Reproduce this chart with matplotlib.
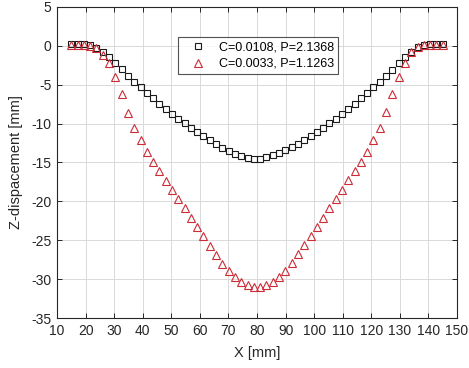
import matplotlib
matplotlib.use("Agg")
import matplotlib.pyplot as plt

plt.rcParams['font.family'] = ['Liberation Sans', 'DejaVu Sans']
plt.rcParams['axes.unicode_minus'] = False

x_mm = [15.00, 17.20, 19.41, 21.61, 23.81, 26.02, 28.22, 30.42, 32.63, 34.83,
        37.03, 39.24, 41.44, 43.64, 45.85, 48.05, 50.25, 52.46, 54.66, 56.86,
        59.07, 61.27, 63.47, 65.68, 67.88, 70.08, 72.29, 74.49, 76.69, 78.90,
        81.10, 83.31, 85.51, 87.71, 89.92, 92.12, 94.32, 96.53, 98.73, 100.93,
        103.14, 105.34, 107.54, 109.75, 111.95, 114.15, 116.36, 118.56, 120.76, 122.97,
        125.17, 127.37, 129.58, 131.78, 133.98, 136.19, 138.39, 140.59, 142.80, 145.00]

z_c0108 = [0.2, 0.2, 0.2, 0.05, -0.3, -0.75, -1.4, -2.15, -3.0, -3.85,
           -4.6, -5.35, -6.05, -6.75, -7.45, -8.15, -8.75, -9.35, -9.9, -10.5,
           -11.05, -11.65, -12.15, -12.6, -13.1, -13.5, -13.9, -14.15, -14.4, -14.5,
           -14.5, -14.35, -14.05, -13.75, -13.4, -13.05, -12.6, -12.1, -11.6, -11.05,
           -10.5, -9.95, -9.4, -8.8, -8.15, -7.5, -6.7, -6.0, -5.3, -4.6,
           -3.85, -3.1, -2.25, -1.4, -0.75, -0.2, 0.1, 0.2, 0.2, 0.2]

z_c0033 = [0.15, 0.15, 0.15, 0.0, -0.3, -1.2, -2.2, -4.05, -6.25, -8.6,
           -10.5, -12.1, -13.6, -14.9, -16.05, -17.35, -18.5, -19.7, -20.9, -22.1,
           -23.35, -24.5, -25.7, -26.9, -28.0, -28.95, -29.75, -30.35, -30.8, -31.0,
           -31.0, -30.8, -30.35, -29.75, -28.9, -27.95, -26.8, -25.6, -24.45, -23.25,
           -22.1, -20.9, -19.7, -18.5, -17.3, -16.05, -14.9, -13.6, -12.1, -10.5,
           -8.5, -6.15, -3.95, -2.15, -0.8, -0.2, 0.1, 0.15, 0.15, 0.15]

labels = ['C=0.0108, P=2.1368', 'C=0.0033, P=1.1263']
x_ticks = [10, 20, 30, 40, 50, 60, 70, 80, 90, 100, 110, 120, 130, 140, 150]
y_ticks = [-35, -30, -25, -20, -15, -10, -5, 0, 5]

fig = plt.figure(figsize=(4.69, 3.68), dpi=100)
ax = fig.add_axes([57/469, 1 - 318/368, 400/469, 311/368])

ax.plot(x_mm, z_c0108, linestyle='none', marker='s', markersize=4.8,
        markerfacecolor='none', markeredgecolor='#1a1a1a', markeredgewidth=0.8,
        label=labels[0])
ax.plot(x_mm, z_c0033, linestyle='none', marker='^', markersize=5.6,
        markerfacecolor='none', markeredgecolor='#cc2b36', markeredgewidth=0.8,
        label=labels[1])

ax.set_xlim(10, 150)
ax.set_ylim(-35, 5)
ax.set_xticks(x_ticks)
ax.set_yticks(y_ticks)
ax.grid(True, color='#d9d9d9', linewidth=0.7)
ax.set_axisbelow(True)
ax.tick_params(direction='in', length=3.5, width=0.7, top=True, right=True,
               labelsize=10, colors='#262626', pad=4)
for s in ax.spines.values():
    s.set_color('#262626')
    s.set_linewidth(0.8)

ax.set_xlabel('X [mm]', fontsize=10.5, color='#262626', labelpad=6)
ax.set_ylabel('Z-dispacement [mm]', fontsize=10.5, color='#262626', labelpad=6)

leg = ax.legend(loc='upper left', bbox_to_anchor=(0.303, 0.903), borderaxespad=0,
                fontsize=9, frameon=True, fancybox=False, borderpad=0.35,
                labelspacing=0.35, handlelength=2.4, handletextpad=0.5)
leg.get_frame().set_edgecolor('#262626')
leg.get_frame().set_linewidth(0.8)

fig.savefig('out.png', dpi=100)
